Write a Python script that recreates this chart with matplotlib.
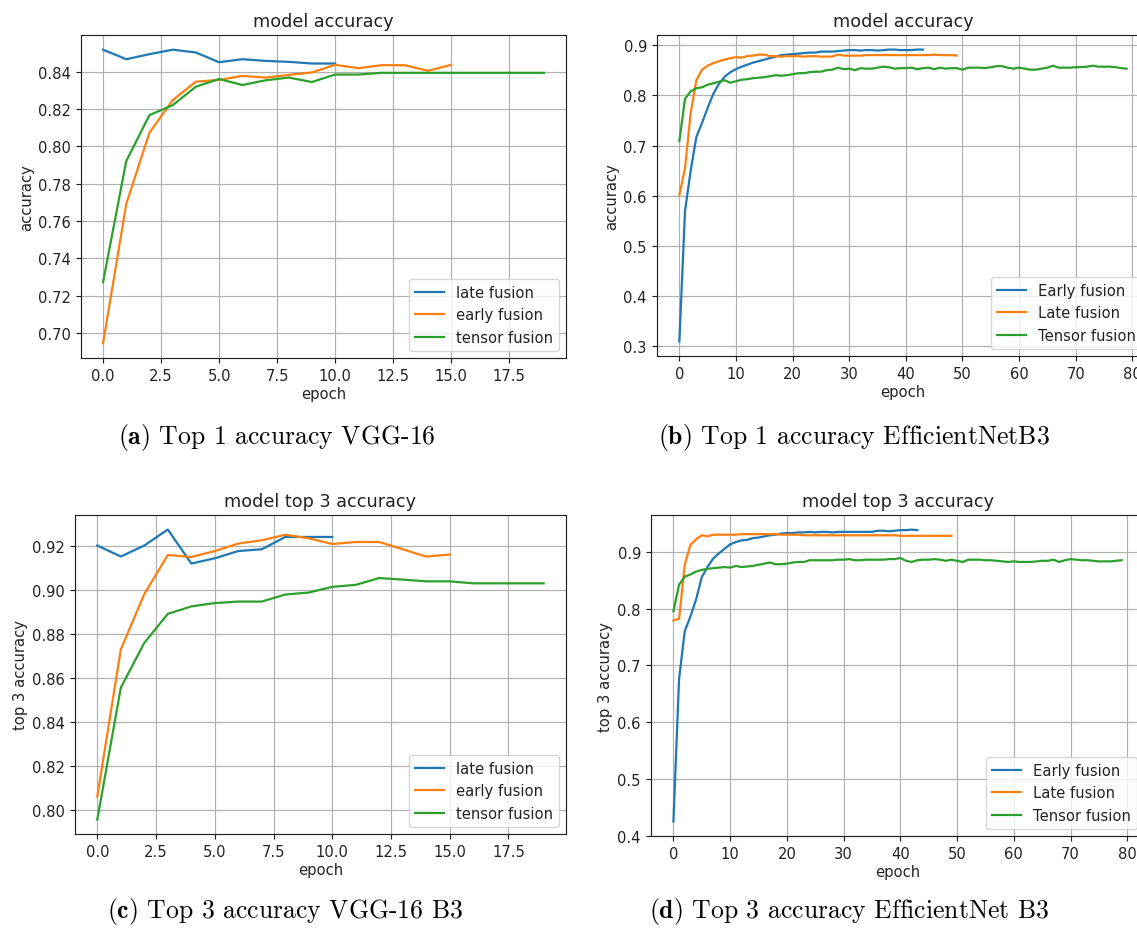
import matplotlib
matplotlib.use("Agg")
import matplotlib.pyplot as plt

# ---------------- data ----------------
# (a) Top 1 accuracy VGG-16
a_late = [0.8517, 0.8466, 0.8493, 0.8517, 0.8502, 0.8450, 0.8466, 0.8457, 0.8452, 0.8443, 0.8443]
a_early = [0.6946, 0.7691, 0.8073, 0.8247, 0.8346, 0.8355, 0.8377, 0.8368, 0.8382, 0.8395,
           0.8436, 0.8418, 0.8434, 0.8434, 0.8404, 0.8436]
a_tensor = [0.7273, 0.7921, 0.8167, 0.8220, 0.8319, 0.8360, 0.8328, 0.8353, 0.8368, 0.8344,
            0.8384, 0.8384, 0.8393, 0.8393, 0.8393, 0.8393, 0.8393, 0.8393, 0.8393, 0.8393]

# (b) Top 1 accuracy EfficientNetB3
b_early = [0.310, 0.570, 0.650, 0.717, 0.745, 0.775, 0.803, 0.823, 0.837, 0.846,
           0.852, 0.857, 0.861, 0.865, 0.868, 0.871, 0.874, 0.877, 0.880, 0.881,
           0.882, 0.883, 0.884, 0.885, 0.885, 0.887, 0.887, 0.887, 0.888, 0.889,
           0.890, 0.890, 0.889, 0.890, 0.890, 0.889, 0.890, 0.891, 0.891, 0.890,
           0.890, 0.890, 0.891, 0.891]
b_late = [0.601, 0.655, 0.765, 0.830, 0.851, 0.859, 0.864, 0.868, 0.871, 0.874,
          0.876, 0.875, 0.878, 0.879, 0.881, 0.881, 0.878, 0.878, 0.877, 0.878,
          0.878, 0.878, 0.877, 0.878, 0.878, 0.877, 0.877, 0.877, 0.881, 0.879,
          0.879, 0.879, 0.879, 0.880, 0.880, 0.880, 0.880, 0.880, 0.880, 0.880,
          0.880, 0.880, 0.880, 0.880, 0.880, 0.881, 0.880, 0.880, 0.880, 0.879]
b_tensor = [0.709, 0.793, 0.808, 0.814, 0.816, 0.821, 0.824, 0.827, 0.830, 0.825,
            0.828, 0.831, 0.832, 0.834, 0.835, 0.836, 0.838, 0.840, 0.839, 0.840,
            0.842, 0.844, 0.844, 0.846, 0.847, 0.847, 0.850, 0.851, 0.855, 0.852,
            0.853, 0.850, 0.854, 0.853, 0.853, 0.855, 0.857, 0.856, 0.853, 0.854,
            0.854, 0.855, 0.852, 0.854, 0.855, 0.852, 0.855, 0.853, 0.854, 0.854,
            0.851, 0.855, 0.855, 0.855, 0.854, 0.856, 0.858, 0.858, 0.855, 0.853,
            0.855, 0.853, 0.851, 0.851, 0.853, 0.855, 0.859, 0.855, 0.855, 0.855,
            0.856, 0.856, 0.857, 0.859, 0.857, 0.857, 0.857, 0.856, 0.854, 0.853]

# (c) Top 3 accuracy VGG-16
c_late = [0.9202, 0.9152, 0.9202, 0.9275, 0.9120, 0.9144, 0.9177, 0.9185, 0.9241, 0.9241, 0.9241]
c_early = [0.8060, 0.8729, 0.8981, 0.9159, 0.9150, 0.9177, 0.9211, 0.9226, 0.9251, 0.9235,
           0.9209, 0.9218, 0.9218, 0.9185, 0.9152, 0.9161]
c_tensor = [0.7955, 0.8555, 0.8759, 0.8891, 0.8925, 0.8940, 0.8947, 0.8947, 0.8979, 0.8988,
            0.9014, 0.9023, 0.9054, 0.9047, 0.9039, 0.9039, 0.9030, 0.9030, 0.9030, 0.9030]

# (d) Top 3 accuracy EfficientNet B3
d_early = [0.425, 0.676, 0.760, 0.786, 0.816, 0.855, 0.873, 0.888, 0.897, 0.905,
           0.913, 0.917, 0.920, 0.921, 0.924, 0.925, 0.927, 0.929, 0.930, 0.932,
           0.933, 0.933, 0.934, 0.934, 0.935, 0.934, 0.935, 0.935, 0.934, 0.935,
           0.935, 0.935, 0.935, 0.935, 0.935, 0.935, 0.937, 0.937, 0.936, 0.937,
           0.938, 0.938, 0.939, 0.938]
d_late = [0.779, 0.782, 0.877, 0.912, 0.922, 0.929, 0.927, 0.930, 0.930, 0.930,
          0.930, 0.930, 0.931, 0.931, 0.931, 0.931, 0.931, 0.931, 0.931, 0.930,
          0.930, 0.930, 0.930, 0.929, 0.929, 0.929, 0.929, 0.929, 0.929, 0.929,
          0.929, 0.929, 0.929, 0.929, 0.929, 0.929, 0.929, 0.929, 0.929, 0.929,
          0.928, 0.928, 0.928, 0.928, 0.928, 0.928, 0.928, 0.928, 0.928, 0.928]
d_tensor = [0.795, 0.842, 0.856, 0.860, 0.865, 0.868, 0.870, 0.871, 0.872, 0.873,
            0.872, 0.875, 0.873, 0.874, 0.875, 0.877, 0.879, 0.881, 0.878, 0.878,
            0.879, 0.881, 0.882, 0.882, 0.885, 0.885, 0.885, 0.885, 0.885, 0.886,
            0.886, 0.887, 0.885, 0.885, 0.886, 0.886, 0.886, 0.886, 0.887, 0.887,
            0.889, 0.884, 0.882, 0.885, 0.886, 0.886, 0.887, 0.886, 0.884, 0.886,
            0.884, 0.882, 0.886, 0.886, 0.886, 0.885, 0.885, 0.884, 0.883, 0.882,
            0.883, 0.882, 0.882, 0.882, 0.883, 0.884, 0.884, 0.886, 0.882, 0.885,
            0.887, 0.886, 0.885, 0.885, 0.884, 0.883, 0.883, 0.883, 0.884, 0.885]

vgg_labels = ["late fusion", "early fusion", "tensor fusion"]
eff_labels = ["Early fusion", "Late fusion", "Tensor fusion"]

titles = ["model accuracy", "model accuracy", "model top 3 accuracy", "model top 3 accuracy"]
ylabels = ["accuracy", "accuracy", "top 3 accuracy", "top 3 accuracy"]
captions = [("(a)", "Top 1 accuracy VGG-16"),
            ("(b)", "Top 1 accuracy EfficientNetB3"),
            ("(c)", "Top 3 accuracy VGG-16 B3"),
            ("(d)", "Top 3 accuracy EfficientNet B3")]

a_yticks = [0.70, 0.72, 0.74, 0.76, 0.78, 0.80, 0.82, 0.84]
b_yticks = [0.3, 0.4, 0.5, 0.6, 0.7, 0.8, 0.9]
c_yticks = [0.80, 0.82, 0.84, 0.86, 0.88, 0.90, 0.92]
d_yticks = [0.4, 0.5, 0.6, 0.7, 0.8, 0.9]
vgg_xticks = [0.0, 2.5, 5.0, 7.5, 10.0, 12.5, 15.0, 17.5]
eff_xticks = [0, 10, 20, 30, 40, 50, 60, 70, 80]

# ---------------- style ----------------
plt.rcParams["mathtext.fontset"] = "cm"
W, H = 1137, 929
fig = plt.figure(figsize=(W / 100, H / 100), dpi=100)
fig.patch.set_facecolor("white")

FS = 10.6
colors = ["#1f77b4", "#ff7f0e", "#2ca02c"]


def rect(l, r, t, b):
    return [l / W, 1 - b / H, (r - l) / W, (b - t) / H]


panels = [
    (rect(81, 566, 36, 359), [a_late, a_early, a_tensor], vgg_labels, a_yticks, vgg_xticks, "{:.2f}", "{:.1f}"),
    (rect(657, 1149, 36, 357), [b_early, b_late, b_tensor], eff_labels, b_yticks, eff_xticks, "{:.1f}", "{:d}"),
    (rect(75, 566, 516, 835), [c_late, c_early, c_tensor], vgg_labels, c_yticks, vgg_xticks, "{:.2f}", "{:.1f}"),
    (rect(651, 1144, 516, 837), [d_early, d_late, d_tensor], eff_labels, d_yticks, eff_xticks, "{:.1f}", "{:d}"),
]

for i, (r, series, labels, yt, xt, yfmt, xfmt) in enumerate(panels):
    ax = fig.add_axes(r)
    for s, lab, col in zip(series, labels, colors):
        ax.plot(range(len(s)), s, color=col, lw=1.6, label=lab)
    ax.set_yticks(yt)
    ax.set_yticklabels([yfmt.format(v) for v in yt])
    ax.set_xticks(xt)
    ax.set_xticklabels([xfmt.format(v) for v in xt])
    ax.grid(True, color="#b0b0b0", lw=0.85)
    ax.set_axisbelow(True)
    ax.tick_params(labelsize=FS, length=3.7, width=0.85, colors="#222222")
    for sp in ax.spines.values():
        sp.set_linewidth(0.85)
        sp.set_color("#222222")
    ax.set_title(titles[i], fontsize=12.7, pad=6.3, color="#222222")
    ax.set_xlabel("epoch", fontsize=FS, labelpad=2.5, color="#222222")
    ax.set_ylabel(ylabels[i], fontsize=FS, labelpad=3, color="#222222")
    leg = ax.legend(loc="lower right", fontsize=FS, framealpha=0.8,
                    borderaxespad=0.5, handlelength=2.0)
    for t in leg.get_texts():
        t.set_color("#222222")

cap_pos = [(277, 438), (854, 438), (285, 912), (849, 912)]
for (bold, rest), (cx, cy) in zip(captions, cap_pos):
    fig.text(cx / W, 1 - cy / H, r"$\mathbf{" + bold + r"}$ " + rest,
             fontsize=18.5, family="cmr10", ha="center", va="center", color="black")

fig.savefig("out.png", dpi=100, facecolor="white")
